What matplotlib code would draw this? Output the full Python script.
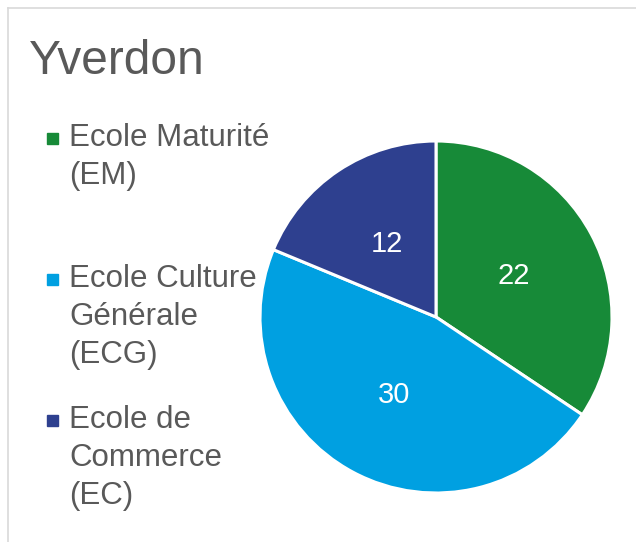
import matplotlib.pyplot as plt
from matplotlib.patches import Rectangle
from matplotlib.lines import Line2D

plt.rcParams['font.family'] = ['Liberation Sans', 'DejaVu Sans']

labels = ["Ecole Maturité\n(EM)", "Ecole Culture\nGénérale\n(ECG)", "Ecole de\nCommerce\n(EC)"]
values = [22, 30, 12]
colors = ["#178A38", "#00A0E1", "#2E408F"]
title = "Yverdon"

W, H = 636, 542
fig = plt.figure(figsize=(W / 100, H / 100), dpi=100)

# light grey frame (top and left visible)
fig.add_artist(Line2D([8 / W, 1], [1 - 8 / H, 1 - 8 / H], color="#D9D9D9", lw=1.2))
fig.add_artist(Line2D([8 / W, 8 / W], [0, 1 - 8 / H], color="#D9D9D9", lw=1.2))

fig.text(29 / W, 1 - 74 / H, title, fontsize=34.5, color="#595959", va="baseline")

# pie
cx, cy, r = 436, 317, 176
ax = fig.add_axes([(cx - r) / W, (H - cy - r) / H, 2 * r / W, 2 * r / H])
total = sum(values)
wedges, texts, autotexts = ax.pie(
    values, colors=colors, startangle=90, counterclock=False,
    autopct=lambda p: f"{round(p * total / 100)}", pctdistance=0.5,
    wedgeprops=dict(edgecolor="white", linewidth=2.2, clip_on=False),
    textprops=dict(color="white", fontsize=21))
ax.set_xlim(-1, 1)
ax.set_ylim(-1, 1)
ax.axis("off")

# legend, one line at a time
for i, (lab, col) in enumerate(zip(labels, colors)):
    base = 146 + 141 * i
    fig.add_artist(Rectangle((47 / W, 1 - (base - 2) / H), 11 / W, 11 / H,
                             transform=fig.transFigure, color=col))
    for j, line in enumerate(lab.split("\n")):
        fig.text(69 / W, 1 - (base + 38 * j) / H, line, fontsize=22.5,
                 color="#595959", va="baseline")

fig.savefig("out.png", dpi=100)
